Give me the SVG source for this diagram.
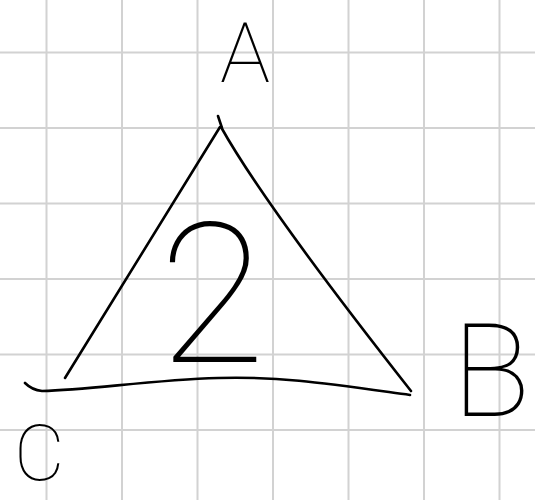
<svg xmlns="http://www.w3.org/2000/svg" width="535" height="500" viewBox="0 0 535 500">
<style>
.grid line{stroke:#d2d2d2;stroke-width:2}
.ink{fill:none;stroke:#000;stroke-width:2.6;stroke-linecap:round;stroke-linejoin:round}
.hand{font-family:Roboto,"DejaVu Sans",sans-serif;font-weight:100;fill:#000}
</style>
<rect width="535" height="500" fill="#fff"/>
<g class="grid">
<line x1="46.5" y1="0" x2="46.5" y2="500"/>
<line x1="122" y1="0" x2="122" y2="500"/>
<line x1="197.5" y1="0" x2="197.5" y2="500"/>
<line x1="273" y1="0" x2="273" y2="500"/>
<line x1="348.5" y1="0" x2="348.5" y2="500"/>
<line x1="424" y1="0" x2="424" y2="500"/>
<line x1="499.5" y1="0" x2="499.5" y2="500"/>
<line x1="0" y1="52.5" x2="535" y2="52.5"/>
<line x1="0" y1="128" x2="535" y2="128"/>
<line x1="0" y1="203.5" x2="535" y2="203.5"/>
<line x1="0" y1="279" x2="535" y2="279"/>
<line x1="0" y1="354.5" x2="535" y2="354.5"/>
<line x1="0" y1="430" x2="535" y2="430"/>
</g>
<g id="triangle" class="ink">
<path d="M218,116 L222,128"/>
<path d="M220,127 Q150,240 65,378"/>
<path d="M221,127 C245,170 300,250 411,391"/>
<path d="M410,395 C330,384 280,376 218,378 C150,380 90,390 42,391 Q32,390 25,383"/>
</g>
<g id="labels" class="hand">
<text x="245" y="82" font-size="84" text-anchor="middle">A</text>
<text x="452" y="416" font-size="130">B</text>
<text x="14" y="480" font-size="78">C</text>
<text x="212" y="362" font-size="195" text-anchor="middle">2</text>
</g>
</svg>
